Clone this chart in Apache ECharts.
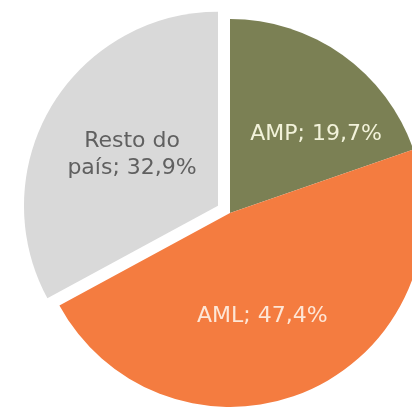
<!DOCTYPE html>
<html>
<head>
<meta charset="utf-8">
<style>
  html, body { margin: 0; padding: 0; background: #fff; }
  #pie { width: 412px; height: 407px; }
</style>
<script src="https://cdn.jsdelivr.net/npm/echarts@6/dist/echarts.min.js"></script>
</head>
<body>
<div id="pie"></div>
<script>
// dados do gráfico
const regioes = ['AMP', 'AML', 'Resto do país'];
const percentagens = [19.7, 47.4, 32.9];
const cores = ['#7b8054', '#f47c40', '#d9d9d9'];
const coresTexto = ['#f2f2da', '#fde6d6', '#606060'];

// vírgula como separador decimal
const fmt = v => v.toFixed(1).replace('.', ',') + '%';

let myChart = echarts.init(document.getElementById('pie'));

let option = {
    backgroundColor: '#ffffff',
    animation: false,
    series: [{
        type: 'pie',
        center: [230, 213],
        radius: 194,
        startAngle: 90,
        clockwise: true,
        selectedMode: 'single',
        selectedOffset: 14,
        emphasis: { disabled: true },
        label: {
            show: true,
            position: 'inside',
            fontFamily: 'DejaVu Sans',
            fontSize: 22,
            lineHeight: 27,
            formatter: p => p.name + '; ' + fmt(p.value)
        },
        labelLine: { show: false },
        data: regioes.map((nome, i) => ({
            name: nome,
            value: percentagens[i],
            selected: i === 2,
            itemStyle: { color: cores[i] },
            label: i === 2
                ? {
                    color: coresTexto[i],
                    offset: [1, 3],
                    // quebra de linha como no original
                    formatter: p => p.name.replace(' do ', ' do\n') + '; ' + fmt(p.value)
                }
                : { color: coresTexto[i], offset: i === 0 ? [28, 3] : [-8, 12] }
        }))
    }]
};
option && myChart.setOption(option);
</script>
</body>
</html>
